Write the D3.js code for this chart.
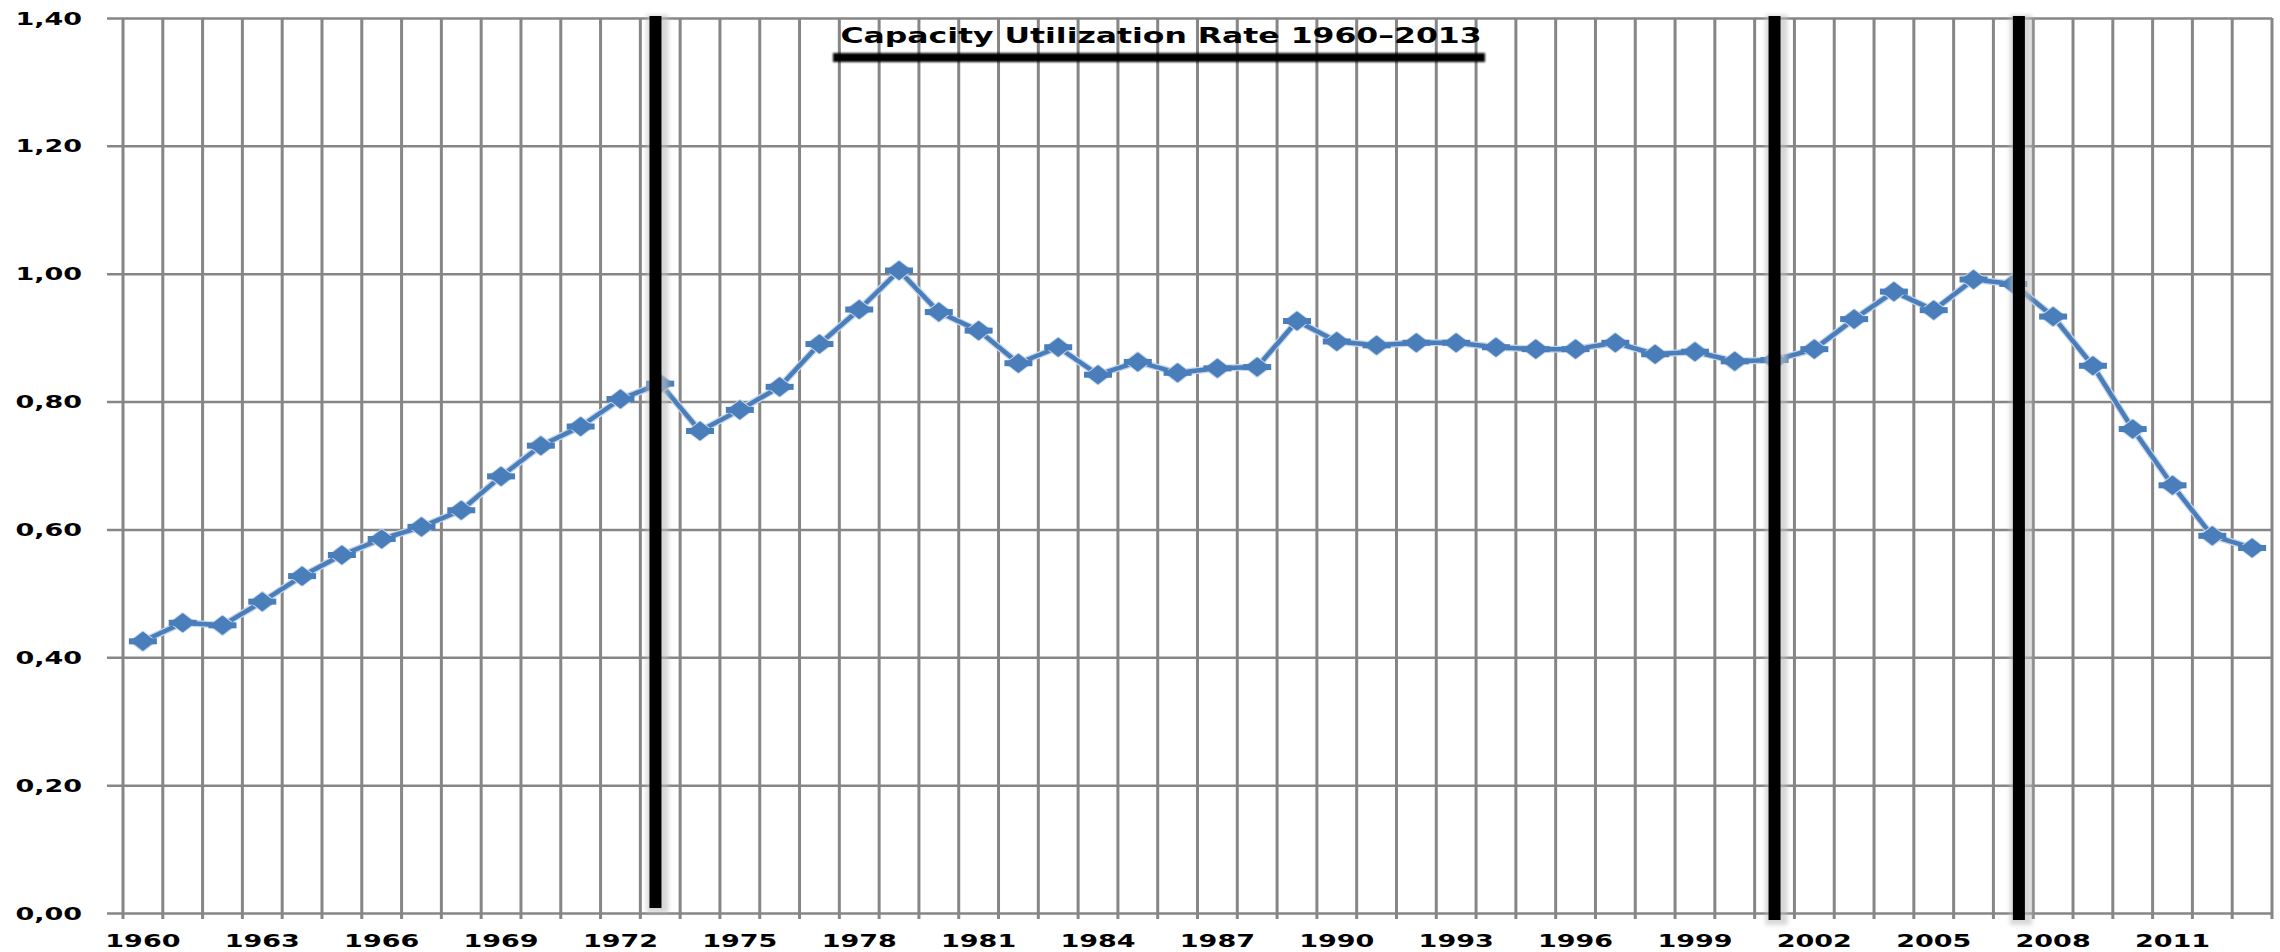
<!DOCTYPE html>
<html>
<head>
<meta charset="utf-8">
<script src="https://cdn.jsdelivr.net/npm/d3@7"></script>
<style>
  html, body { margin: 0; padding: 0; background: #fff; }
  svg { display: block; }
  text { font-family: "DejaVu Sans", Verdana, sans-serif; }
</style>
</head>
<body>
<svg id="chart" width="2280" height="952"></svg>
<script>
// ---------- data ----------
const years = [1960,1961,1962,1963,1964,1965,1966,1967,1968,1969,
               1970,1971,1972,1973,1974,1975,1976,1977,1978,1979,
               1980,1981,1982,1983,1984,1985,1986,1987,1988,1989,
               1990,1991,1992,1993,1994,1995,1996,1997,1998,1999,
               2000,2001,2002,2003,2004,2005,2006,2007,2008,2009,
               2010,2011,2012,2013];
const utilization = [0.425,0.454,0.450,0.487,0.527,0.560,0.585,0.604,0.630,0.683,
                     0.731,0.761,0.804,0.828,0.754,0.787,0.823,0.890,0.944,1.005,
                     0.940,0.911,0.860,0.885,0.842,0.862,0.845,0.852,0.854,0.926,
                     0.894,0.888,0.892,0.892,0.885,0.882,0.882,0.892,0.874,0.878,
                     0.863,0.865,0.882,0.929,0.972,0.943,0.991,0.984,0.933,0.856,
                     0.757,0.669,0.590,0.571];
const xTickLabels = ["1960","1963","1966","1969","1972","1975","1978","1981","1984",
                     "1987","1990","1993","1996","1999","2002","2005","2008","2011"];
const yTicks = [0, 0.2, 0.4, 0.6, 0.8, 1.0, 1.2, 1.4];
// recession markers (position in year units; x.5 = centre of the year's slot)
const recessionMarks = [1972.88, 2001.0, 2007.14];
const titleText = "Capacity Utilization Rate 1960\u20132013";

// ---------- layout ----------
const mLeft = 123, mRight = 2272, mTop = 18, mBottom = 913;
const svg = d3.select("#chart");
const defs = svg.append("defs");
defs.append("filter").attr("id", "blur2").attr("x", "-50%").attr("y", "-50%").attr("width", "200%").attr("height", "200%")
  .append("feGaussianBlur").attr("stdDeviation", 2);
defs.append("filter").attr("id", "blur1").attr("x", "-50%").attr("y", "-50%").attr("width", "200%").attr("height", "200%")
  .append("feGaussianBlur").attr("stdDeviation", 1);

const x = d3.scaleBand().domain(years).range([mLeft, mRight]).paddingInner(0).paddingOuter(0);
const step = x.step();
const xYear = d3.scaleLinear().domain([years[0], years[years.length - 1] + 1]).range([mLeft, mRight]);
const y = d3.scaleLinear().domain([0, 1.4]).range([mBottom, mTop]);

const gridColor = "#868686";
const fmt = v => d3.format(".2f")(v).replace(".", ",");
const sx = 1.5; // horizontal stretch of the original's lettering

// horizontal gridlines (with outside tick stub)
const yAxis = d3.axisLeft(y).tickValues(yTicks).tickSize(-(mRight - mLeft)).tickFormat("");
const gy = svg.append("g").attr("transform", `translate(${mLeft},0)`).call(yAxis);
gy.select(".domain").remove();
gy.selectAll(".tick line").attr("x1", -16).attr("stroke", gridColor).attr("stroke-width", 2.5);

// vertical gridlines at category boundaries (extend below axis as tick marks)
const boundaries = years.map(d => x(d)).concat([x(years[years.length - 1]) + step]);
svg.append("g").selectAll("line").data(boundaries).join("line")
  .attr("x1", d => d).attr("x2", d => d)
  .attr("y1", mTop).attr("y2", mBottom + 6)
  .attr("stroke", gridColor).attr("stroke-width", 3);

// y labels
svg.append("g").selectAll("text").data(yTicks).join("text")
  .attr("transform", d => `translate(82,${y(d) + 6.5}) scale(${sx},1)`)
  .attr("text-anchor", "end")
  .attr("font-size", 18).attr("font-weight", "bold").attr("fill", "#000")
  .text(d => fmt(d));

// x labels
svg.append("g").selectAll("text").data(xTickLabels).join("text")
  .attr("transform", d => `translate(${x(+d) + step / 2},947) scale(${sx},1)`)
  .attr("text-anchor", "middle")
  .attr("font-size", 18).attr("font-weight", "bold").attr("fill", "#000")
  .text(d => d);

// series line
const blue = "#4A7EBB";
const pts = years.map((yr, i) => [x(yr) + step / 2, y(utilization[i])]);
const line = d3.line();
svg.append("path").attr("d", line(pts)).attr("fill", "none")
  .attr("stroke", "#c6d6ec").attr("stroke-width", 7).attr("stroke-linejoin", "round");
svg.append("path").attr("d", line(pts)).attr("fill", "none")
  .attr("stroke", blue).attr("stroke-width", 4.5).attr("stroke-linejoin", "round");

// markers
const marker = "M0,-8.5 L11,0 L0,8.5 L-11,0 Z";
const mg = svg.append("g").selectAll("g").data(pts).join("g")
  .attr("transform", d => `translate(${d[0]},${d[1]})`);
mg.append("path").attr("d", marker).attr("fill", "#c6d6ec").attr("stroke", "#c6d6ec").attr("stroke-width", 4).attr("stroke-linejoin", "round");
mg.append("rect").attr("x", -14).attr("y", -3).attr("width", 28).attr("height", 6).attr("fill", blue);
mg.append("path").attr("d", marker).attr("fill", blue).attr("stroke", blue).attr("stroke-width", 2).attr("stroke-linejoin", "round");

// recession bars
const barBottoms = [908, 920, 920];
const rg = svg.append("g").selectAll("g").data(recessionMarks).join("g");
rg.append("rect")
  .attr("x", d => xYear(d) + 0.5 * step - 9).attr("width", 22)
  .attr("y", mTop - 3).attr("height", (d, i) => barBottoms[i] - mTop + 8)
  .attr("fill", "#bdbdbd").attr("opacity", 0.6).attr("filter", "url(#blur2)");
rg.append("rect")
  .attr("x", d => xYear(d) + 0.5 * step - 6).attr("width", 12)
  .attr("y", mTop - 2).attr("height", (d, i) => barBottoms[i] - mTop + 2)
  .attr("fill", "#000");

// title box
const tcx = 1159;
const tg = svg.append("g");
tg.append("rect").attr("x", tcx - 326).attr("y", 53).attr("width", 652).attr("height", 9)
  .attr("fill", "#000").attr("filter", "url(#blur1)");
tg.append("line").attr("x1", tcx - 325).attr("x2", tcx - 325).attr("y1", 25).attr("y2", 60)
  .attr("stroke", "#9a9a9a").attr("stroke-width", 3).attr("filter", "url(#blur1)");
tg.append("line").attr("x1", tcx + 326).attr("x2", tcx + 326).attr("y1", 25).attr("y2", 60)
  .attr("stroke", "#9a9a9a").attr("stroke-width", 2).attr("filter", "url(#blur1)");
tg.append("text")
  .attr("transform", `translate(${tcx + 2},42.5) scale(${sx},1)`)
  .attr("text-anchor", "middle")
  .attr("font-size", 21).attr("font-weight", "bold").attr("fill", "#000")
  .text(titleText);
</script>
</body>
</html>
